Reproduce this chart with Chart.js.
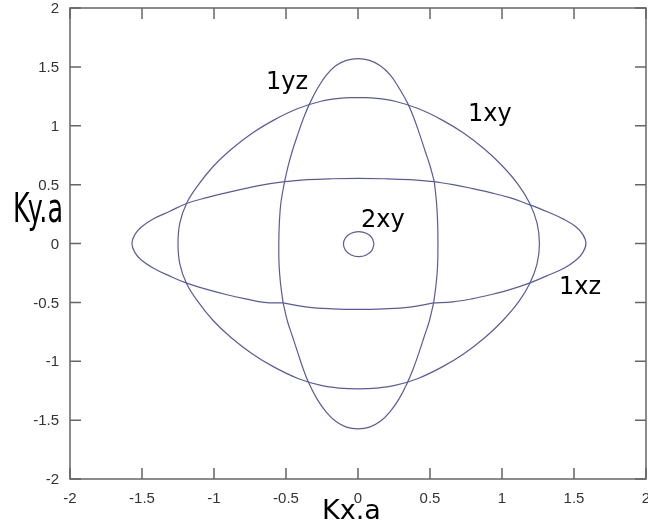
<!DOCTYPE html>
<html>
<head>
<meta charset="utf-8">
<script src="https://cdn.jsdelivr.net/npm/chart.js@4/dist/chart.umd.min.js"></script>
<style>
  html, body { margin: 0; padding: 0; background: #fff; }
  #wrap { width: 648px; height: 521px; }
</style>
</head>
<body>
<div id="wrap"><canvas id="chart" width="648" height="521"></canvas></div>
<script>
const tickValues = [-2, -1.5, -1, -0.5, 0, 0.5, 1, 1.5, 2];
const tickLabels = ["-2", "-1.5", "-1", "-0.5", "0", "0.5", "1", "1.5", "2"];

// 1xy: one closed contour, starts and ends at the top
const ring1xy = [
  [0, 1.24], [-0.13, 1.233], [-0.257, 1.208], [-0.417, 1.146], [-0.582, 1.05], [-0.733, 0.938],
  [-0.884, 0.796], [-1.006, 0.654], [-1.11, 0.496], [-1.19, 0.342], [-1.237, 0.175], [-1.25, 0],
  [-1.237, -0.175], [-1.19, -0.342], [-1.11, -0.496], [-1.006, -0.654], [-0.884, -0.796], [-0.733, -0.938],
  [-0.582, -1.05], [-0.417, -1.146], [-0.257, -1.205], [-0.13, -1.228], [0, -1.235], [0.13, -1.228],
  [0.257, -1.205], [0.417, -1.146], [0.582, -1.05], [0.733, -0.938], [0.884, -0.796], [1.006, -0.654],
  [1.115, -0.496], [1.192, -0.342], [1.243, -0.175], [1.26, 0], [1.243, 0.175], [1.192, 0.342],
  [1.115, 0.496], [1.006, 0.654], [0.884, 0.796], [0.733, 0.938], [0.582, 1.05], [0.417, 1.146],
  [0.257, 1.208], [0.13, 1.233], [0, 1.24]
];

// 1yz: four arcs meeting at the corners of the inner square
const yzTop = [
  [-0.51, 0.525], [-0.485, 0.66], [-0.455, 0.79], [-0.42, 0.92], [-0.38, 1.06], [-0.335, 1.19],
  [-0.28, 1.32], [-0.22, 1.43], [-0.155, 1.51], [-0.08, 1.555], [0, 1.57], [0.08, 1.555],
  [0.155, 1.51], [0.225, 1.43], [0.285, 1.32], [0.345, 1.19], [0.39, 1.06], [0.43, 0.92],
  [0.465, 0.79], [0.5, 0.66], [0.53, 0.525]
];
const yzRight = [
  [0.53, 0.525], [0.545, 0.35], [0.553, 0.18], [0.555, 0], [0.553, -0.18], [0.543, -0.34], [0.525, -0.505]
];
const yzBottom = [
  [0.525, -0.505], [0.495, -0.66], [0.46, -0.79], [0.425, -0.92], [0.385, -1.06], [0.34, -1.19],
  [0.285, -1.32], [0.222, -1.43], [0.155, -1.51], [0.08, -1.56], [0, -1.575], [-0.08, -1.56],
  [-0.155, -1.51], [-0.222, -1.43], [-0.285, -1.32], [-0.34, -1.19], [-0.382, -1.06], [-0.42, -0.92],
  [-0.455, -0.79], [-0.49, -0.66], [-0.52, -0.505]
];
const yzLeft = [
  [-0.52, -0.505], [-0.538, -0.34], [-0.548, -0.18], [-0.55, 0], [-0.546, 0.18], [-0.535, 0.35], [-0.51, 0.525]
];

// 1xz: same idea, lying sideways
const xzRight = [
  [0.53, 0.525], [0.66, 0.5], [0.79, 0.468], [0.92, 0.432], [1.06, 0.387], [1.19, 0.33],
  [1.31, 0.272], [1.43, 0.205], [1.515, 0.14], [1.562, 0.075], [1.583, 0], [1.562, -0.075],
  [1.515, -0.14], [1.43, -0.21], [1.31, -0.275], [1.19, -0.337], [1.06, -0.39], [0.92, -0.435],
  [0.79, -0.47], [0.66, -0.495], [0.525, -0.505]
];
const xzTop = [
  [-0.51, 0.525], [-0.35, 0.542], [-0.18, 0.55], [0, 0.553], [0.18, 0.55], [0.36, 0.542], [0.53, 0.525]
];
const xzBottom = [
  [-0.52, -0.505], [-0.35, -0.54], [-0.18, -0.555], [0, -0.56], [0.18, -0.555], [0.36, -0.54], [0.525, -0.505]
];
const xzLeft = [
  [-0.52, -0.505], [-0.65, -0.5], [-0.78, -0.47], [-0.91, -0.435], [-1.05, -0.39], [-1.19, -0.337],
  [-1.31, -0.275], [-1.42, -0.21], [-1.505, -0.14], [-1.55, -0.075], [-1.57, 0], [-1.55, 0.075],
  [-1.505, 0.14], [-1.42, 0.21], [-1.31, 0.272], [-1.19, 0.34], [-1.05, 0.39], [-0.91, 0.432],
  [-0.78, 0.468], [-0.65, 0.5], [-0.51, 0.525]
];

// 2xy: small pocket at the centre
const ring2xy = [
  [0.111, -0.005], [0.097, 0.048], [0.058, 0.087], [0.005, 0.101], [-0.048, 0.087], [-0.087, 0.048],
  [-0.101, -0.005], [-0.087, -0.058], [-0.048, -0.097], [0.005, -0.111], [0.058, -0.097],
  [0.097, -0.058], [0.111, -0.005]
];

const curveLabels = [
  { text: "1xy", x: 468, y: 121 },
  { text: "1yz", x: 266, y: 89 },
  { text: "2xy", x: 361, y: 227 },
  { text: "1xz", x: 559, y: 294 }
];

const lineColor = "#5a5aa2";

function toPoints(ring) {
  return ring.map(([x, y]) => ({ x, y }));
}

const framePlugin = {
  id: "frame",
  afterDraw(chart) {
    const ctx = chart.ctx;
    const xs = chart.scales.x;
    const ys = chart.scales.y;
    const area = chart.chartArea;
    const tickLen = 11;

    ctx.save();
    ctx.strokeStyle = "#666";
    ctx.lineWidth = 1.5;
    ctx.strokeRect(area.left, area.top, area.right - area.left, area.bottom - area.top);

    ctx.beginPath();
    tickValues.forEach((v) => {
      const px = xs.getPixelForValue(v);
      const py = ys.getPixelForValue(v);
      ctx.moveTo(px, area.bottom);
      ctx.lineTo(px, area.bottom - tickLen);
      ctx.moveTo(px, area.top);
      ctx.lineTo(px, area.top + tickLen);
      ctx.moveTo(area.left, py);
      ctx.lineTo(area.left + tickLen, py);
      ctx.moveTo(area.right, py);
      ctx.lineTo(area.right - tickLen, py);
    });
    ctx.stroke();

    ctx.fillStyle = "#333";
    ctx.font = '15px "Liberation Sans", Arial, sans-serif';
    ctx.textBaseline = "middle";
    ctx.textAlign = "right";
    tickValues.forEach((v, i) => {
      ctx.fillText(tickLabels[i], area.left - 11, ys.getPixelForValue(v) + 1);
    });
    ctx.textAlign = "center";
    tickValues.forEach((v, i) => {
      ctx.fillText(tickLabels[i], xs.getPixelForValue(v), area.bottom + 20);
    });

    ctx.fillStyle = "#000";
    ctx.textBaseline = "alphabetic";
    ctx.textAlign = "left";
    ctx.font = '24px "DejaVu Sans", sans-serif';
    curveLabels.forEach((l) => ctx.fillText(l.text, l.x, l.y));

    // axis titles
    ctx.font = '27px "DejaVu Sans", sans-serif';
    ctx.fillText("Kx.a", 322, 519);

    ctx.font = '40px "DejaVu Sans", sans-serif';
    const w = ctx.measureText("Ky.a").width;
    ctx.translate(13, 222);
    ctx.scale(50 / w, 1);
    ctx.fillText("Ky.a", 0, 0);
    ctx.restore();
  }
};

const makeSet = (ring) => ({
  data: toPoints(ring),
  showLine: true,
  borderColor: lineColor,
  borderWidth: 1.2,
  pointRadius: 0,
  tension: 0.4,
  fill: false
});

const arcs = [ring1xy, yzTop, yzRight, yzBottom, yzLeft, xzRight, xzTop, xzBottom, xzLeft, ring2xy];

new Chart(document.getElementById("chart"), {
  type: "scatter",
  data: {
    datasets: arcs.map(makeSet)
  },
  options: {
    responsive: false,
    animation: false,
    layout: { padding: { left: 70, right: 2, top: 8, bottom: 42 } },
    plugins: { legend: { display: false }, tooltip: { enabled: false } },
    scales: {
      x: { type: "linear", min: -2, max: 2, display: false },
      y: { type: "linear", min: -2, max: 2, display: false }
    }
  },
  plugins: [framePlugin]
});
</script>
</body>
</html>
